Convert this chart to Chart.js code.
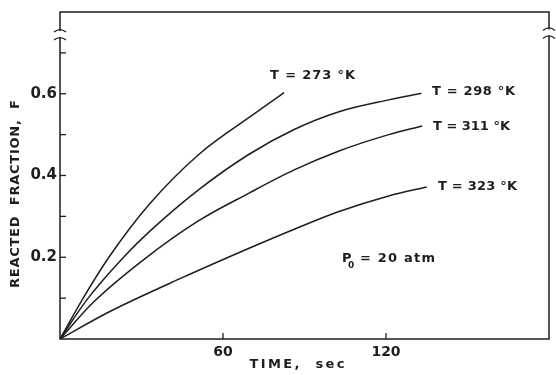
<!DOCTYPE html>
<html>
<head>
<meta charset="utf-8">
<script src="https://cdn.jsdelivr.net/npm/chart.js@4.4.0/dist/chart.umd.min.js"></script>
<style>
  html, body { margin: 0; padding: 0; background: #fff; }
  #wrap { width: 556px; height: 375px; }
</style>
</head>
<body>
<div id="wrap"><canvas id="myChart" width="556" height="375"></canvas></div>
<script>
// values (time in sec, reacted fraction F)
var t273 = [0, 8, 18, 32.8, 51.2, 69.6, 82.5];
var f273 = [0, 0.094, 0.20, 0.329, 0.452, 0.542, 0.603];

var t298 = [0, 10, 22.8, 32.8, 51.2, 69.6, 86, 102.7, 121, 133];
var f298 = [0, 0.097, 0.196, 0.262, 0.366, 0.452, 0.512, 0.556, 0.585, 0.601];

var t311 = [0, 12, 30, 51.2, 69.6, 86, 102.7, 121, 133.3];
var f311 = [0, 0.088, 0.19, 0.29, 0.357, 0.413, 0.46, 0.50, 0.521];

var t323 = [0, 18, 45, 69.6, 86, 102.7, 121, 135];
var f323 = [0, 0.066, 0.15, 0.222, 0.268, 0.312, 0.350, 0.372];

var seriesNames = ["T = 273 \u00B0K", "T = 298 \u00B0K", "T = 311 \u00B0K", "T = 323 \u00B0K"];
var xTickLabels = [60, 120];
var yTickLabels = [0.2, 0.4, 0.6];
var yMinorTicks = [0.1, 0.3, 0.5, 0.7];

var ink = "#1e1e1e";

function pts(t, f) {
  return t.map(function(v, i){ return {x: v, y: f[i]}; });
}
function ds(t, f, name) {
  return {
    label: name, data: pts(t, f),
    borderColor: ink, borderWidth: 1.5,
    pointRadius: 0, fill: false,
    cubicInterpolationMode: "monotone"
  };
}

// spaced text helper
function spacedText(ctx, txt, x, y, width, font, align) {
  ctx.save();
  ctx.font = font;
  ctx.letterSpacing = "0px";
  var w = ctx.measureText(txt).width;
  var sp = (width - w) / (txt.length - 1);
  ctx.letterSpacing = sp + "px";
  ctx.textBaseline = "middle";
  ctx.textAlign = "left";
  var x0 = align === "center" ? x - width / 2 : x;
  ctx.fillText(txt, x0, y);
  ctx.restore();
}

function breakMark(ctx, x, y) {
  // little gap in the axis with two arcs
  ctx.save();
  ctx.fillStyle = "#fff";
  ctx.fillRect(x - 2, y - 3, 4, 6);
  ctx.strokeStyle = ink;
  ctx.lineWidth = 1.3;
  [-4, 4].forEach(function(d){
    ctx.beginPath();
    ctx.moveTo(x - 6, y + d + 2);
    ctx.quadraticCurveTo(x, y + d - 3, x + 6, y + d + 2);
    ctx.stroke();
  });
  ctx.restore();
}

var paperPlugin = {
  id: "paper",
  afterDraw: function(chart) {
    var ctx = chart.ctx, a = chart.chartArea;
    var xs = chart.scales.x, ys = chart.scales.y;
    ctx.save();
    ctx.strokeStyle = ink;
    ctx.lineWidth = 1.5;
    ctx.strokeRect(a.left, a.top, a.right - a.left, a.bottom - a.top);

    // inward ticks
    ctx.lineWidth = 1.3;
    yTickLabels.concat(yMinorTicks).forEach(function(v){
      var y = ys.getPixelForValue(v);
      ctx.beginPath(); ctx.moveTo(a.left, y); ctx.lineTo(a.left + 6, y); ctx.stroke();
    });
    xTickLabels.forEach(function(v){
      var x = xs.getPixelForValue(v);
      ctx.beginPath(); ctx.moveTo(x, a.bottom); ctx.lineTo(x, a.bottom - 6); ctx.stroke();
    });
    ctx.restore();

    breakMark(ctx, a.left, ys.getPixelForValue(0.746));
    breakMark(ctx, a.right, ys.getPixelForValue(0.75));

    ctx.save();
    ctx.fillStyle = ink;
    var f13 = "bold 13px 'DejaVu Sans'";
    spacedText(ctx, seriesNames[0], 270, 76, 85, f13);
    spacedText(ctx, seriesNames[1], 432, 92, 83, f13);
    spacedText(ctx, seriesNames[2], 433, 127, 77, f13);
    spacedText(ctx, seriesNames[3], 438, 187, 79, f13);

    // P0 = 20 atm
    ctx.font = f13;
    ctx.textBaseline = "middle";
    ctx.fillText("P", 342, 259);
    ctx.font = "bold 9px 'DejaVu Sans'";
    ctx.fillText("0", 348, 266);
    spacedText(ctx, "= 20 atm", 360, 259, 75, f13);

    // axis titles
    spacedText(ctx, "TIME,  sec", 297, 365, 95, f13, "center");
    ctx.save();
    ctx.translate(16, 194);
    ctx.rotate(-Math.PI / 2);
    spacedText(ctx, "REACTED  FRACTION,  F", 0, 0, 188, f13, "center");
    ctx.restore();
    ctx.restore();
  }
};

var ctx = document.getElementById("myChart").getContext("2d");
var chart = new Chart(ctx, {
  type: "line",
  data: {
    datasets: [
      ds(t273, f273, seriesNames[0]),
      ds(t298, f298, seriesNames[1]),
      ds(t311, f311, seriesNames[2]),
      ds(t323, f323, seriesNames[3])
    ]
  },
  options: {
    responsive: false,
    animation: false,
    layout: { padding: { left: 0, right: 7, top: 12, bottom: 0 } },
    plugins: { legend: { display: false }, tooltip: { enabled: false } },
    scales: {
      x: {
        type: "linear", min: 0, max: 180,
        grid: { display: false, drawTicks: false },
        border: { display: false },
        afterFit: function(s){ s.height = 36; },
        ticks: {
          stepSize: 60, autoSkip: false, maxRotation: 0, padding: 5,
          color: ink, font: { family: "DejaVu Sans", size: 14, weight: "bold" },
          callback: function(v){ return xTickLabels.indexOf(v) >= 0 ? String(v) : ""; }
        }
      },
      y: {
        type: "linear", min: 0, max: 0.8,
        grid: { display: false, drawTicks: false },
        border: { display: false },
        afterFit: function(s){ s.width = 60; },
        ticks: {
          stepSize: 0.1, autoSkip: false, padding: 3,
          color: ink, font: { family: "DejaVu Sans", size: 15, weight: "bold" },
          callback: function(v){
            var r = Math.round(v * 10) / 10;
            return yTickLabels.indexOf(r) >= 0 ? r.toFixed(1) : "";
          }
        }
      }
    }
  },
  plugins: [paperPlugin]
});
</script>
</body>
</html>
